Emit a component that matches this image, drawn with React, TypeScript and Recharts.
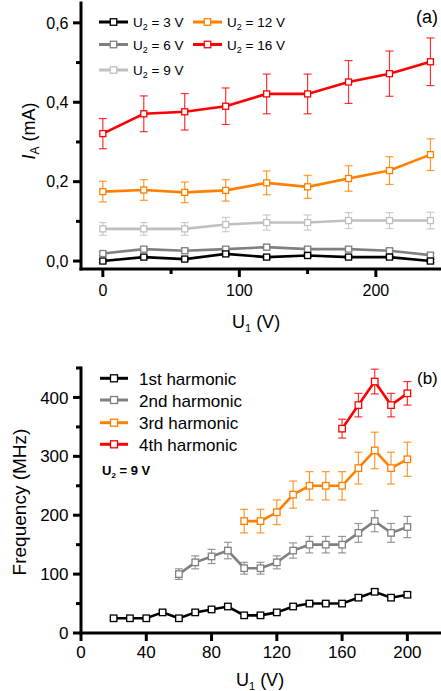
import React from 'react';
import { LineChart, Line, XAxis, YAxis, ErrorBar } from 'recharts';

const FONT = '"Liberation Sans", Arial, Helvetica, sans-serif';

// ---------- Panel (a): I_A vs U1 for several U2 ----------
const U1_A = [0, 30, 60, 90, 120, 150, 180, 210, 240];
const IA_3V = [0.0, 0.01, 0.005, 0.018, 0.01, 0.014, 0.01, 0.01, 0.0];
const ERR_3V = [0.004, 0.004, 0.004, 0.005, 0.004, 0.004, 0.004, 0.004, 0.004];
const IA_6V = [0.019, 0.03, 0.026, 0.03, 0.035, 0.03, 0.03, 0.026, 0.015];
const ERR_6V = [0.005, 0.006, 0.006, 0.006, 0.007, 0.006, 0.006, 0.006, 0.005];
const IA_9V = [0.081, 0.081, 0.081, 0.092, 0.097, 0.097, 0.102, 0.102, 0.102];
const ERR_9V = [0.016, 0.016, 0.016, 0.018, 0.019, 0.019, 0.02, 0.02, 0.021];
const IA_12V = [0.175, 0.179, 0.173, 0.178, 0.197, 0.187, 0.208, 0.228, 0.268];
const ERR_12V = [0.026, 0.026, 0.026, 0.027, 0.03, 0.029, 0.032, 0.035, 0.04];
const IA_16V = [0.321, 0.371, 0.376, 0.39, 0.421, 0.421, 0.451, 0.472, 0.502];
const ERR_16V = [0.038, 0.045, 0.046, 0.046, 0.05, 0.05, 0.054, 0.057, 0.06];

const TICKS_A_X = [0, 50, 100, 150, 200];
const MAJOR_A_X = [0, 100, 200];
const TICKS_A_Y = [0, 0.1, 0.2, 0.3, 0.4, 0.5, 0.6];
const MAJOR_A_Y = [0, 0.2, 0.4, 0.6];

const SERIES_A = [
  { key: 'u16', label: '16', color: '#ff0000', values: IA_16V, errors: ERR_16V },
  { key: 'u12', label: '12', color: '#ff8000', values: IA_12V, errors: ERR_12V },
  { key: 'u9', label: '9', color: '#c0c0c0', values: IA_9V, errors: ERR_9V },
  { key: 'u6', label: '6', color: '#808080', values: IA_6V, errors: ERR_6V },
  { key: 'u3', label: '3', color: '#000000', values: IA_3V, errors: ERR_3V },
];

// ---------- Panel (b): harmonic frequencies vs U1 (U2 = 9 V) ----------
const U1_B = [20, 30, 40, 50, 60, 70, 80, 90, 100, 110, 120, 130, 140, 150, 160, 170, 180, 190, 200];
const H1 = [25, 25, 25, 35, 25, 35, 40, 45, 30, 30, 35, 45, 50, 50, 50, 60, 70, 60, 65];
const H1_ERR = [2, 2, 2, 3, 2, 3, 3, 3, 3, 3, 3, 3, 3, 3, 3, 4, 4, 4, 4];
const H2_START = 60;
const H2 = [100, 120, 130, 140, 110, 110, 120, 140, 150, 150, 150, 170, 190, 170, 180];
const H2_ERR = [9, 11, 12, 14, 10, 10, 11, 13, 14, 14, 14, 16, 18, 16, 18];
const H3_START = 100;
const H3 = [190, 190, 205, 235, 250, 250, 250, 280, 310, 280, 295];
const H3_ERR = [20, 20, 21, 23, 24, 24, 24, 27, 31, 27, 29];
const H4_START = 160;
const H4 = [347, 387, 427, 387, 407];
const H4_ERR = [16, 20, 21, 20, 20];

const TICKS_B_X = [0, 40, 80, 120, 160, 200];
const TICKS_B_Y = [0, 50, 100, 150, 200, 250, 300, 350, 400, 450];

const SERIES_B = [
  { key: 'h1', label: '1st harmonic', color: '#000000', start: 20, values: H1, errors: H1_ERR },
  { key: 'h2', label: '2nd harmonic', color: '#808080', start: H2_START, values: H2, errors: H2_ERR },
  { key: 'h3', label: '3rd harmonic', color: '#ff8000', start: H3_START, values: H3, errors: H3_ERR },
  { key: 'h4', label: '4th harmonic', color: '#ff0000', start: H4_START, values: H4, errors: H4_ERR },
];

// ---------- tables built from the arrays ----------
const dataA = U1_A.map((x, i) => {
  const row: any = { x };
  SERIES_A.forEach((s) => {
    row[s.key] = s.values[i];
    row[s.key + 'e'] = s.errors[i];
  });
  return row;
});

const dataB = U1_B.map((x) => {
  const row: any = { x };
  SERIES_B.forEach((s) => {
    const j = U1_B.indexOf(x) - U1_B.indexOf(s.start);
    const ok = j >= 0 && j < s.values.length;
    row[s.key] = ok ? s.values[j] : null;
    row[s.key + 'e'] = ok ? s.errors[j] : null;
  });
  return row;
});

// ---------- helpers ----------
const near = (arr: number[], v: number) => arr.some((a) => Math.abs(a - v) < 1e-6);

const makeXTick = (majors: number[] | null, labelDy: number, fontSize: number) => (props: any) => {
  const { x, y, payload } = props;
  const major = majors ? near(majors, payload.value) : true;
  return (
    <g>
      <line x1={x} x2={x} y1={y} y2={y + (major ? 8 : 5)} stroke="#000" strokeWidth={3} />
      {major && (
        <text x={x} y={y + labelDy} textAnchor="middle" fontSize={fontSize} fontFamily={FONT} fill="#000">
          {String(payload.value)}
        </text>
      )}
    </g>
  );
};

const makeYTick = (isMajor: (v: number) => boolean, fmt: (v: number) => string, fontSize: number) => (props: any) => {
  const { x, y, payload } = props;
  const major = isMajor(payload.value);
  return (
    <g>
      <line x1={x - (major ? 8 : 5)} x2={x} y1={y} y2={y} stroke="#000" strokeWidth={3} />
      {major && (
        <text x={x - 12.5} y={y + fontSize * 0.36} textAnchor="end" fontSize={fontSize} fontFamily={FONT} fill="#000">
          {fmt(payload.value)}
        </text>
      )}
    </g>
  );
};

const squareDot = (color: string, size: number) => (props: any) => {
  const { cx, cy, index } = props;
  if (cx == null || cy == null || Number.isNaN(cx) || Number.isNaN(cy) || props.value == null) {
    return <g key={`n${index}`} />;
  }
  return (
    <rect
      key={`s${index}`}
      x={cx - size / 2}
      y={cy - size / 2}
      width={size}
      height={size}
      fill="#fff"
      stroke={color}
      strokeWidth={1.3}
    />
  );
};

const axisLineStyle = { stroke: '#000', strokeWidth: 3, strokeLinecap: 'square' as const };

const XTickA = makeXTick(MAJOR_A_X, 27, 16);
const YTickA = makeYTick((v) => near(MAJOR_A_Y, v), (v) => v.toFixed(1).replace('.', ','), 16);
const XTickB = makeXTick(null, 25, 17);
const YTickB = makeYTick((v) => Math.round(v) % 100 === 0, (v) => String(v), 17);

const LegendSample = ({ x, y, color, len = 29, sq = 6.5 }: any) => (
  <g>
    <line x1={x} x2={x + len} y1={y} y2={y} stroke={color} strokeWidth={3} />
    <rect x={x + len / 2 - sq / 2} y={y - sq / 2} width={sq} height={sq} fill="#fff" stroke={color} strokeWidth={1.3} />
  </g>
);

const legendA = [
  { s: SERIES_A[4], x: 99, y: 22 },
  { s: SERIES_A[3], x: 99, y: 44.5 },
  { s: SERIES_A[2], x: 99, y: 70 },
  { s: SERIES_A[1], x: 193, y: 22 },
  { s: SERIES_A[0], x: 193, y: 44.5 },
];

const legendBY = [378.3, 400, 422.7, 444.3];

export default function App() {
  return (
    <div style={{ position: 'absolute', left: 0, top: 0, width: 441, height: 691, background: '#fff', fontFamily: FONT }}>
      <div style={{ position: 'absolute', left: 0, top: 0 }}>
        <LineChart width={441} height={340} data={dataA} margin={{ top: 3, right: 1, bottom: 41, left: 0 }}>
          <XAxis
            type="number"
            dataKey="x"
            domain={[-16, 247]}
            ticks={TICKS_A_X}
            interval={0}
            tickSize={0}
            tickMargin={0}
            tickLine={false}
            axisLine={axisLineStyle}
            tick={XTickA}
            height={30}
            allowDataOverflow
          />
          <YAxis
            type="number"
            domain={[-0.02, 0.65]}
            ticks={TICKS_A_Y}
            interval={0}
            tickSize={0}
            tickMargin={0}
            tickLine={false}
            axisLine={axisLineStyle}
            tick={YTickA}
            width={81}
            allowDataOverflow
          />
          {SERIES_A.map((s) => (
            <Line
              key={s.key}
              dataKey={s.key}
              stroke={s.color}
              strokeWidth={2.6}
              isAnimationActive={false}
              dot={squareDot(s.color, 6)}
              activeDot={false}
            >
              <ErrorBar dataKey={s.key + 'e'} width={4} stroke={s.color} strokeWidth={1.2} strokeOpacity={0.8} direction="y" />
            </Line>
          ))}
        </LineChart>
      </div>

      <div style={{ position: 'absolute', left: 0, top: 340 }}>
        <LineChart width={441} height={351} data={dataB} margin={{ top: 28, right: 1, bottom: 28, left: 0 }}>
          <XAxis
            type="number"
            dataKey="x"
            domain={[0, 220]}
            ticks={TICKS_B_X}
            interval={0}
            tickSize={0}
            tickMargin={0}
            tickLine={false}
            axisLine={axisLineStyle}
            tick={XTickB}
            height={30}
            allowDataOverflow
          />
          <YAxis
            type="number"
            domain={[0, 450]}
            ticks={TICKS_B_Y}
            interval={0}
            tickSize={0}
            tickMargin={0}
            tickLine={false}
            axisLine={axisLineStyle}
            tick={YTickB}
            width={81}
            allowDataOverflow
          />
          {SERIES_B.map((s) => (
            <Line
              key={s.key}
              dataKey={s.key}
              stroke={s.color}
              strokeWidth={2.6}
              isAnimationActive={false}
              dot={squareDot(s.color, 6.5)}
              activeDot={false}
              connectNulls={false}
            >
              <ErrorBar dataKey={s.key + 'e'} width={4} stroke={s.color} strokeWidth={1.2} strokeOpacity={0.8} direction="y" />
            </Line>
          ))}
        </LineChart>
      </div>

      <svg width={441} height={691} style={{ position: 'absolute', left: 0, top: 0, pointerEvents: 'none' }} fontFamily={FONT}>
        {/* Panel (a) annotations */}
        <text x={416} y={23} fontSize={18} fill="#000">(a)</text>
        {legendA.map(({ s, x, y }) => (
          <g key={s.key}>
            <LegendSample x={x} y={y} color={s.color} />
            <text x={x + 34} y={y + 5} fontSize={13.5} fill="#000">
              U<tspan dy={3} fontSize={9}>2</tspan>
              <tspan dy={-3}>{` = ${s.label} V`}</tspan>
            </text>
          </g>
        ))}
        <text x={232} y={328} fontSize={18} fill="#000">
          U<tspan dy={4} fontSize={11}>1</tspan>
          <tspan dy={-4}> (V)</tspan>
        </text>
        <text x={35} y={131} transform="rotate(-90 35 131)" textAnchor="middle" fontSize={18} fill="#000">
          <tspan fontStyle="italic">I</tspan>
          <tspan dy={4} fontSize={12}>A</tspan>
          <tspan dy={-4}> (mA)</tspan>
        </text>

        {/* Panel (b) annotations */}
        <text x={417} y={384} fontSize={17} fill="#000">(b)</text>
        {SERIES_B.map((s, i) => (
          <g key={s.key}>
            <LegendSample x={100} y={legendBY[i]} color={s.color} len={28} sq={7} />
            <text x={139} y={legendBY[i] + 6.5} fontSize={17} fill="#000">{s.label}</text>
          </g>
        ))}
        <text x={102} y={475} fontSize={13} fontWeight="bold" fill="#000">
          U<tspan dy={3} fontSize={8}>2</tspan>
          <tspan dy={-3}> = 9 V</tspan>
        </text>
        <text x={236} y={686} fontSize={18} fill="#000">
          U<tspan dy={4} fontSize={11}>1</tspan>
          <tspan dy={-4}> (V)</tspan>
        </text>
        <text x={26} y={502} transform="rotate(-90 26 502)" textAnchor="middle" fontSize={19} fill="#000">
          Frequency (MHz)
        </text>
      </svg>
    </div>
  );
}
